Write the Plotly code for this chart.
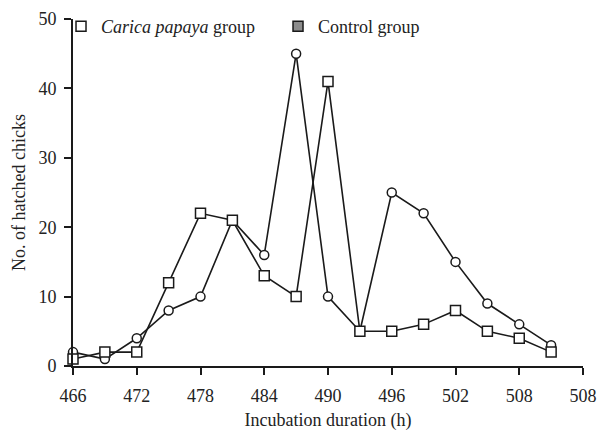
import plotly.graph_objects as go

# Incubation time (h) at which chicks were counted
hours = [466, 469, 472, 475, 478, 481, 484, 487, 490, 493, 496, 499, 502, 505, 508, 511]

# Number of hatched chicks per time point
papaya_counts = [1, 2, 2, 12, 22, 21, 13, 10, 41, 5, 5, 6, 8, 5, 4, 2]
control_counts = [2, 1, 4, 8, 10, 21, 16, 45, 10, 5, 25, 22, 15, 9, 6, 3]

# Axis ticks
x_tickvals = [466, 472, 478, 484, 490, 496, 502, 508, 514]
x_ticktext = ["466", "472", "478", "484", "490", "496", "502", "508", "508"]
y_tickvals = [0, 10, 20, 30, 40, 50]

FONT = "Liberation Serif, Times New Roman, serif"
INK = "#1a1a1a"

fig = go.Figure()

fig.add_trace(go.Scatter(
    x=hours, y=control_counts, mode="lines+markers",
    line=dict(color=INK, width=1.6),
    marker=dict(symbol="circle", size=9, color="white",
                line=dict(color=INK, width=1.5)),
    showlegend=False, cliponaxis=False,
))
fig.add_trace(go.Scatter(
    x=hours, y=papaya_counts, mode="lines+markers",
    line=dict(color=INK, width=1.6),
    marker=dict(symbol="square", size=10, color="white",
                line=dict(color=INK, width=1.5)),
    showlegend=False, cliponaxis=False,
))

# Legend entries
fig.add_trace(go.Scatter(
    x=[None], y=[None], mode="markers", name="<i>Carica papaya</i> group",
    marker=dict(symbol="square", size=10, color="white",
                line=dict(color=INK, width=1.5)),
))
fig.add_trace(go.Scatter(
    x=[None], y=[None], mode="markers", name="Control group",
    marker=dict(symbol="square", size=10, color="#8c8c8c",
                line=dict(color=INK, width=1.5)),
))

fig.update_layout(
    width=597, height=431,
    margin=dict(l=73, r=14, t=19, b=65, autoexpand=False),
    paper_bgcolor="white", plot_bgcolor="white",
    font=dict(family=FONT, size=18, color="#222222"),
    legend=dict(
        orientation="h", x=-0.0235, y=1.0315, xanchor="left", yanchor="top",
        bgcolor="rgba(0,0,0,0)", font=dict(size=18, family=FONT),
        itemwidth=30, entrywidth=172, entrywidthmode="pixels",
        tracegroupgap=0,
    ),
    xaxis=dict(
        range=[466, 514], tickmode="array",
        tickvals=x_tickvals, ticktext=x_ticktext,
        showgrid=False, zeroline=False, automargin=False,
        showline=True, linecolor=INK, linewidth=1.6,
        ticks="outside", ticklen=7, tickwidth=1.6, tickcolor=INK,
        ticklabelstandoff=6,
        tickfont=dict(size=18, family=FONT),
        title=dict(text="Incubation duration (h)", font=dict(size=18, family=FONT), standoff=10),
    ),
    yaxis=dict(
        range=[0, 50], tickmode="array", tickvals=y_tickvals,
        showgrid=False, zeroline=False, automargin=False,
        showline=True, linecolor=INK, linewidth=1.6,
        ticks="outside", ticklen=7, tickwidth=1.6, tickcolor=INK,
        ticklabelstandoff=4,
        tickfont=dict(size=18, family=FONT),
        title=dict(text="No. of hatched chicks", font=dict(size=18, family=FONT), standoff=8),
    ),
)

fig.write_html("out.html")
